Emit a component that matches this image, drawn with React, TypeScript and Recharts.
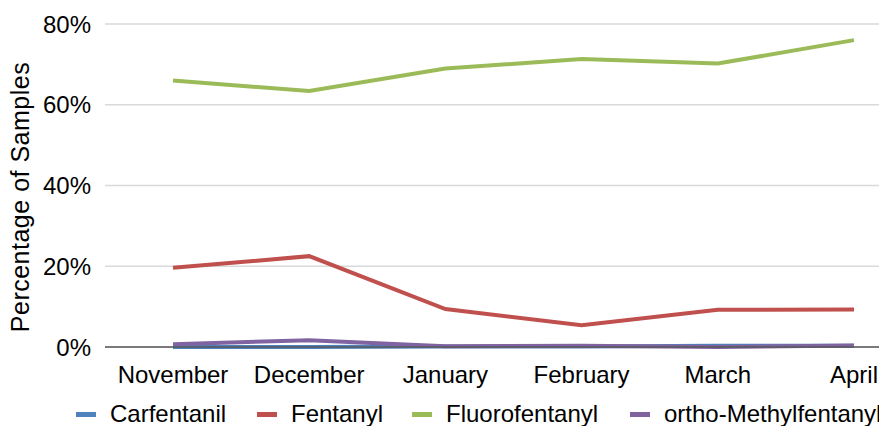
import { LineChart, Line, XAxis, YAxis, CartesianGrid } from 'recharts';

const months = ['November', 'December', 'January', 'February', 'March', 'April'];
const carfentanil = [0, 0, 0.1, 0.1, 0.3, 0.3];
const fentanyl = [19.6, 22.5, 9.4, 5.4, 9.2, 9.3];
const fluorofentanyl = [66.0, 63.4, 69.0, 71.3, 70.2, 76.0];
const orthoMethylfentanyl = [0.7, 1.7, 0.2, 0.3, 0.0, 0.4];
const yTicks = [0, 20, 40, 60, 80];

const series = [
  { key: 'Carfentanil', color: '#4F81BD', left: 76 },
  { key: 'Fentanyl', color: '#C0504D', left: 257 },
  { key: 'Fluorofentanyl', color: '#9BBB59', left: 412 },
  { key: 'ortho-Methylfentanyl', color: '#8064A2', left: 630 },
];

const data = months.map((m, i) => ({
  month: m,
  Carfentanil: carfentanil[i],
  Fentanyl: fentanyl[i],
  Fluorofentanyl: fluorofentanyl[i],
  'ortho-Methylfentanyl': orthoMethylfentanyl[i],
}));

const font = '"Liberation Sans", Arial, sans-serif';

export default function App() {
  return (
    <div style={{ margin: -8, background: '#fff', width: 887, height: 434, position: 'relative' }}>
      <LineChart width={887} height={434} data={data} margin={{ top: 24, right: 0, left: 0, bottom: 34 }}>
        <CartesianGrid vertical={false} stroke="#d9d9d9" strokeWidth={1.5} />
        <XAxis
          dataKey="month"
          padding={{ left: 68, right: 33 }}
          height={53}
          tickLine={false}
          tickSize={0}
          tickMargin={19}
          axisLine={{ stroke: '#595959', strokeWidth: 1.5 }}
          tick={{ fill: '#000', fontSize: 24, fontFamily: font }}
          interval={0}
        />
        <YAxis
          width={105}
          domain={[0, 80]}
          ticks={yTicks}
          tickFormatter={(v) => `${v}%`}
          axisLine={false}
          tickLine={false}
          tickSize={0}
          tickMargin={14}
          tick={{ fill: '#000', fontSize: 24, fontFamily: font }}
          label={{
            content: () => (
              <text x={29} y={197} transform="rotate(-90 29 197)" textAnchor="middle" fill="#000" fontSize={25} letterSpacing={0.5} fontFamily={font}>
                Percentage of Samples
              </text>
            ),
          }}
        />
        {series.map((s) => (
          <Line
            key={s.key}
            type="linear"
            dataKey={s.key}
            stroke={s.color}
            strokeWidth={4}
            dot={false}
            isAnimationActive={false}
          />
        ))}
      </LineChart>
      {/* legend, items placed where the original has them */}
      {series.map((s) => (
        <div
          key={s.key}
          style={{ position: 'absolute', left: s.left, top: 399, height: 30, display: 'flex', alignItems: 'center', whiteSpace: 'nowrap', fontFamily: font, fontSize: 24, color: '#000' }}
        >
          <div style={{ width: 20, height: 5, background: s.color, marginRight: 14 }} />
          <span style={{ lineHeight: '30px' }}>{s.key}</span>
        </div>
      ))}
    </div>
  );
}
